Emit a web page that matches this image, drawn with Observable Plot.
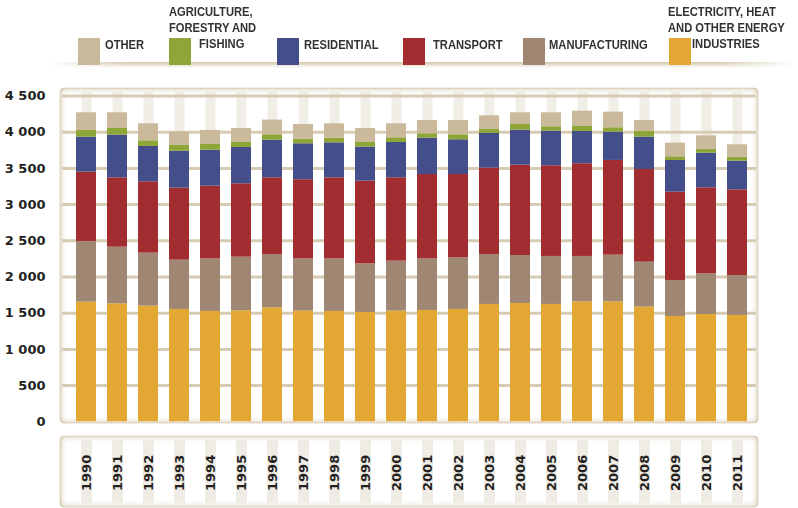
<!DOCTYPE html>
<html>
<head>
<meta charset="utf-8">
<script src="https://cdn.jsdelivr.net/npm/d3@7"></script>
<script src="https://cdn.jsdelivr.net/npm/@observablehq/plot@0.6"></script>
<style>
  html, body { margin: 0; padding: 0; background: #fff; }
  #wrap { width: 798px; height: 508px; position: relative; overflow: hidden; }
  #legend { position: relative; width: 798px; height: 80px; }
  #legend .sw { position: absolute; top: 38px; width: 22px; height: 27px; z-index: 2; }
  #legend .tx { position: absolute; font-family: "Liberation Sans", Arial, sans-serif;
    font-weight: bold; font-size: 13px; color: #333131; line-height: 16px; white-space: nowrap;
    transform: scaleX(0.86); transform-origin: 0 50%; }
  #legend .shadow { position: absolute; left: 50px; top: 62px; width: 745px; height: 6px;
    background: linear-gradient(to bottom, #d3c5aa, rgba(255,255,255,0));
    -webkit-mask-image: linear-gradient(to right, transparent, black 10%, black 90%, transparent);
    mask-image: linear-gradient(to right, transparent, black 10%, black 90%, transparent); }
</style>
</head>
<body>
<div id="wrap">
  <div id="legend"></div>
  <div id="chart"></div>
</div>
<script>
// ---- data ----
const years = ["1990","1991","1992","1993","1994","1995","1996","1997","1998","1999","2000",
               "2001","2002","2003","2004","2005","2006","2007","2008","2009","2010","2011"];
const sectors = ["Electricity, heat and other energy industries", "Manufacturing", "Transport",
                 "Residential", "Agriculture, forestry and fishing", "Other"];
const colors = ["#e3a834", "#a08774", "#a22d30", "#434e8b", "#8ea537", "#cab99b"];
const electricity   = [1653,1630,1598,1552,1524,1533,1575,1529,1524,1510,1529,1538,1552,1621,1634,1621,1657,1657,1584,1455,1482,1469];
const manufacturing = [838,782,732,681,727,741,732,722,727,672,690,713,713,686,663,663,627,645,621,497,562,552];
const transport     = [957,958,985,994,1004,1013,1063,1092,1119,1142,1151,1165,1151,1197,1248,1252,1280,1308,1280,1220,1188,1183];
const residential   = [484,589,488,511,497,502,520,497,483,470,488,502,479,478,484,479,446,391,447,437,479,396];
const agriculture   = [92,93,78,79,79,69,74,64,65,64,65,60,69,56,78,60,69,60,78,51,51,55];
const other         = [244,216,235,184,193,193,203,203,198,193,193,184,198,188,161,193,212,216,152,189,188,171];
const yTicks = [0,500,1000,1500,2000,2500,3000,3500,4000,4500];

// legend labels (lines) in display order
const legendItems = [
  {sector: "Other", lines: ["OTHER"]},
  {sector: "Agriculture, forestry and fishing", lines: ["AGRICULTURE,", "FORESTRY AND", "FISHING"]},
  {sector: "Residential", lines: ["RESIDENTIAL"]},
  {sector: "Transport", lines: ["TRANSPORT"]},
  {sector: "Manufacturing", lines: ["MANUFACTURING"]},
  {sector: "Electricity, heat and other energy industries", lines: ["ELECTRICITY, HEAT", "AND OTHER ENERGY", "INDUSTRIES"]}
];

const series = [electricity, manufacturing, transport, residential, agriculture, other];
const data = [];
years.forEach((yr, i) => sectors.forEach((s, k) => data.push({year: yr, sector: s, value: series[k][i]})));

// ---- legend (HTML) ----
const legendLayout = [
  {sw: 78,  lines: [[105, 37]]},
  {sw: 169, lines: [[169, 4], [169, 20], [199, 36]]},
  {sw: 277, lines: [[304, 37]]},
  {sw: 403, lines: [[433, 37]]},
  {sw: 523, lines: [[549, 37]]},
  {sw: 669, lines: [[668, 4], [668, 20], [692, 36]]}
];
const leg = document.getElementById("legend");
const sh = document.createElement("div"); sh.className = "shadow"; leg.appendChild(sh);
legendItems.forEach((it, i) => {
  const sw = document.createElement("div");
  sw.className = "sw";
  sw.style.left = legendLayout[i].sw + "px";
  sw.style.background = colors[sectors.indexOf(it.sector)];
  leg.appendChild(sw);
  it.lines.forEach((ln, j) => {
    const t = document.createElement("div");
    t.className = "tx";
    t.textContent = ln;
    t.style.left = legendLayout[i].lines[j][0] + "px";
    t.style.top = legendLayout[i].lines[j][1] + "px";
    leg.appendChild(t);
  });
});

// ---- chart ----
const fmt = d => d3.format(",")(d).replace(/,/g, " ");
const plot = Plot.plot({
  width: 798,
  height: 428,
  marginLeft: 67,
  marginRight: 43,
  marginTop: 15.5,
  marginBottom: 86.7,
  style: {fontFamily: "DejaVu Sans, sans-serif", fontSize: "13px", fontWeight: "bold", color: "#231f20", background: "transparent"},
  x: {domain: years, paddingInner: 0.36, paddingOuter: 0.2, label: null},
  y: {domain: [0, 4500], label: null},
  color: {domain: sectors, range: colors},
  marks: [
    // faint stripes behind bars (main panel)
    Plot.ruleX(years, {stroke: "#f1eee8", strokeWidth: 10, insetTop: -6, insetBottom: -1}),
    // faint stripes in the label panel
    Plot.ruleX(years, {stroke: "#efece6", strokeWidth: 11, insetTop: 344, insetBottom: -82}),
    Plot.ruleY(yTicks.filter(d => d > 0), {stroke: "#d7cbb3", strokeWidth: 3, insetLeft: -5, insetRight: -1}),
    Plot.barY(data, {x: "year", y: "value", fill: "sector", order: sectors}),
    Plot.axisY({ticks: yTicks, tickSize: 0, tickPadding: 22, tickFormat: fmt, fontSize: 13, fontWeight: "bold", fill: "#231f20"}),
    Plot.axisX({tickSize: 0, tickPadding: 33, tickRotate: -90, fontSize: 13, fontWeight: "bold", fill: "#231f20"})
  ]
});
document.getElementById("chart").appendChild(plot);

// ---- decorative panels behind marks ----
const svg = d3.select(plot);
const defs = svg.insert("defs", "style + *");
const f = defs.append("filter").attr("id", "innershadow").attr("x", "-5%").attr("y", "-5%").attr("width", "110%").attr("height", "110%");
f.append("feFlood").attr("flood-color", "#c4b292").attr("result", "c");
f.append("feComposite").attr("in", "c").attr("in2", "SourceAlpha").attr("operator", "out").attr("result", "inv");
f.append("feGaussianBlur").attr("in", "inv").attr("stdDeviation", 3).attr("result", "blur");
f.append("feComposite").attr("in", "blur").attr("in2", "SourceAlpha").attr("operator", "in");

const xs = plot.scale("x"), ys = plot.scale("y");
const left = xs.range[0] - 7, right = xs.range[1] + 3;
const y0 = ys.apply(0);
const panels = [
  {x: left, y: ys.apply(4500) - 7.5, w: right - left, h: y0 + 1.7 - (ys.apply(4500) - 7.5)},
  {x: left, y: y0 + 14.7, w: right - left, h: 71}
];
const g = svg.insert("g", "defs + *").attr("class", "panels");
panels.forEach(p => {
  g.append("rect").attr("x", p.x).attr("y", p.y).attr("width", p.w).attr("height", p.h).attr("rx", 4)
    .attr("fill", "#ffffff").attr("stroke", "#e4dccd").attr("stroke-width", 1);
  g.append("rect").attr("x", p.x).attr("y", p.y).attr("width", p.w).attr("height", p.h).attr("rx", 4)
    .attr("fill", "#000").attr("filter", "url(#innershadow)");
});
</script>
</body>
</html>
